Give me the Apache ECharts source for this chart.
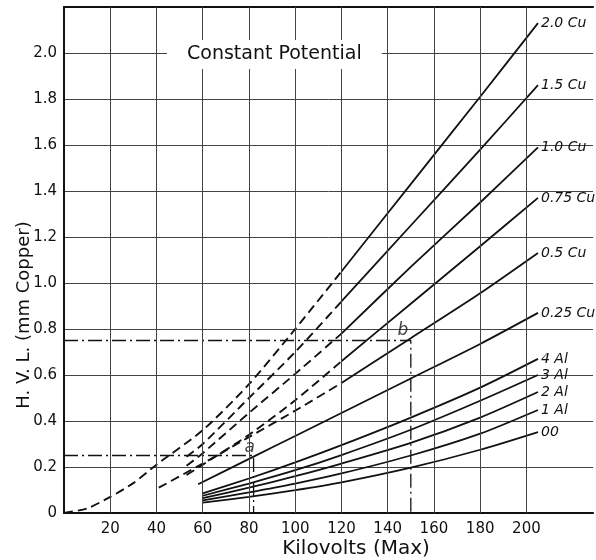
<!DOCTYPE html>
<html>
<head>
<meta charset="utf-8">
<script src="https://cdn.jsdelivr.net/npm/echarts@6/dist/echarts.min.js"></script>
<style>
  html, body { margin: 0; padding: 0; background: #fff; }
  #chart { width: 596px; height: 560px; }
</style>
</head>
<body>
<div id="chart"></div>
<script>
// tick values
const kvTicks = [20, 40, 60, 80, 100, 120, 140, 160, 180, 200];

// solid curves, Al filters and no filter (kV -> HVL mm Cu)
const alKv = [60, 80, 100, 120, 150, 180, 205];
const al4 = [0.085, 0.15, 0.22, 0.295, 0.415, 0.545, 0.67];
const al3 = [0.075, 0.128, 0.186, 0.252, 0.362, 0.488, 0.60];
const al2 = [0.065, 0.11, 0.16, 0.215, 0.305, 0.415, 0.526];
const al1 = [0.055, 0.09, 0.128, 0.172, 0.25, 0.345, 0.448];
const al0 = [0.045, 0.07, 0.099, 0.133, 0.197, 0.275, 0.352];

// 0.25 Cu (solid all the way)
const cu025Kv = [58, 82, 100, 120, 150, 180, 205];
const cu025 = [0.125, 0.245, 0.335, 0.435, 0.585, 0.735, 0.87];

// heavier Cu filters, solid part
const cuKv = [120, 150, 180, 205];
const cu20 = [1.05, 1.43, 1.81, 2.13];
const cu15 = [0.92, 1.25, 1.58, 1.86];
const cu10 = [0.78, 1.07, 1.35, 1.59];
const cu075 = [0.66, 0.91, 1.16, 1.37];
const cu05 = [0.565, 0.76, 0.955, 1.13];

// dashed (extrapolated) parts
const cu20DashKv = [0, 10, 20, 30, 40, 60, 80, 100, 120];
const cu20Dash = [0, 0.02, 0.07, 0.13, 0.21, 0.36, 0.56, 0.80, 1.05];
const dashKv = [53, 60, 80, 100, 120];
const cu15Dash = [0.245, 0.30, 0.50, 0.70, 0.92];
const cu10Dash = [0.205, 0.26, 0.435, 0.605, 0.78];
const cu075Dash = [0.165, 0.21, 0.34, 0.49, 0.66];
const cu05DashKv = [41, 60, 80, 100, 120];
const cu05Dash = [0.11, 0.215, 0.33, 0.445, 0.565];

// worked examples a and b
const refA = [[0, 0.25], [82, 0.25], [82, 0]];
const refB = [[0, 0.75], [150, 0.75], [150, 0]];

const font = 'DejaVu Sans';
const ink = '#111';

function pairs(xs, ys) {
  return xs.map((x, i) => [x, ys[i]]);
}

function solid(name, xs, ys) {
  return {
    name: name,
    type: 'line',
    data: pairs(xs, ys),
    smooth: 0.25,
    showSymbol: false,
    silent: true,
    lineStyle: { color: ink, width: 1.8 },
    endLabel: {
      show: true,
      formatter: () => name,
      fontFamily: font,
      fontStyle: 'italic',
      fontSize: 14,
      color: ink,
      distance: 3
    }
  };
}

function dashed(xs, ys) {
  return {
    type: 'line',
    data: pairs(xs, ys),
    smooth: 0.25,
    showSymbol: false,
    silent: true,
    lineStyle: { color: ink, width: 1.9, type: [9, 5] }
  };
}

function dashDot(pts) {
  return {
    type: 'line',
    data: pts,
    showSymbol: false,
    silent: true,
    lineStyle: { color: ink, width: 1.3, type: [14, 4, 2, 4] }
  };
}

let chart = echarts.init(document.getElementById('chart'));
chart.setOption({
  animation: false,
  grid: { left: 64, right: 0, top: 7, bottom: 47 },
  xAxis: [
    {
      type: 'value',
      min: 0,
      max: 228.8,
      interval: 20,
      axisLine: { lineStyle: { color: ink, width: 2.2 } },
      axisTick: { show: false },
      splitLine: { show: false },
      axisLabel: {
        margin: 9,
        fontFamily: font,
        fontSize: 15,
        color: ink,
        formatter: v => (kvTicks.indexOf(v) >= 0 ? String(v) : '')
      }
    },
    {
      // top border
      type: 'value',
      position: 'top',
      min: 0,
      max: 228.8,
      axisLine: { show: true, lineStyle: { color: ink, width: 2.2 } },
      axisTick: { show: false },
      axisLabel: { show: false },
      splitLine: { show: false }
    }
  ],
  yAxis: {
    type: 'value',
    min: 0,
    max: 2.2,
    interval: 0.2,
    axisLine: { show: true, lineStyle: { color: ink, width: 2 } },
    axisTick: { show: false },
    splitLine: { show: true, lineStyle: { color: '#444', width: 1 } },
    axisLabel: {
      margin: 7,
      fontFamily: font,
      fontSize: 15,
      color: ink,
      formatter: v => (v === 0 ? '0' : v > 2.05 ? '' : v.toFixed(1))
    }
  },
  graphic: [
    {
      type: 'text',
      left: 167,
      top: 40,
      z: 100,
      style: {
        text: 'Constant Potential',
        font: '19px "' + font + '"',
        fill: ink,
        backgroundColor: '#fff',
        padding: [5, 20]
      }
    },
    {
      type: 'text',
      x: 356,
      y: 549,
      style: {
        text: 'Kilovolts (Max)',
        font: '20px "' + font + '"',
        fill: ink,
        align: 'center',
        verticalAlign: 'middle'
      }
    },
    {
      type: 'text',
      x: 24,
      y: 315,
      rotation: Math.PI / 2,
      style: {
        text: 'H. V. L. (mm Copper)',
        font: '18px "' + font + '"',
        fill: ink,
        align: 'center',
        verticalAlign: 'middle'
      }
    }
  ],
  series: [
    {
      // vertical grid lines
      type: 'line',
      data: [],
      silent: true,
      markLine: {
        silent: true,
        symbol: 'none',
        label: { show: false },
        lineStyle: { color: '#444', width: 1, type: 'solid' },
        data: kvTicks.map(v => ({ xAxis: v }))
      }
    },
    dashDot(refA),
    dashDot(refB),
    dashed(cu20DashKv, cu20Dash),
    dashed(dashKv, cu15Dash),
    dashed(dashKv, cu10Dash),
    dashed(dashKv, cu075Dash),
    dashed(cu05DashKv, cu05Dash),
    solid('2.0 Cu', cuKv, cu20),
    solid('1.5 Cu', cuKv, cu15),
    solid('1.0 Cu', cuKv, cu10),
    solid('0.75 Cu', cuKv, cu075),
    solid('0.5 Cu', cuKv, cu05),
    solid('0.25 Cu', cu025Kv, cu025),
    solid('4 Al', alKv, al4),
    solid('3 Al', alKv, al3),
    solid('2 Al', alKv, al2),
    solid('1 Al', alKv, al1),
    solid('00', alKv, al0),
    {
      // point labels a and b
      type: 'scatter',
      symbolSize: 0,
      silent: true,
      data: [
        { value: [82, 0.25], label: { formatter: 'a', offset: [-4, 6] } },
        { value: [150, 0.75], label: { formatter: 'b', offset: [-8, 4] } }
      ],
      label: {
        show: true,
        position: 'top',
        fontFamily: font,
        fontStyle: 'italic',
        fontSize: 17,
        color: ink
      }
    }
  ]
});
</script>
</body>
</html>
